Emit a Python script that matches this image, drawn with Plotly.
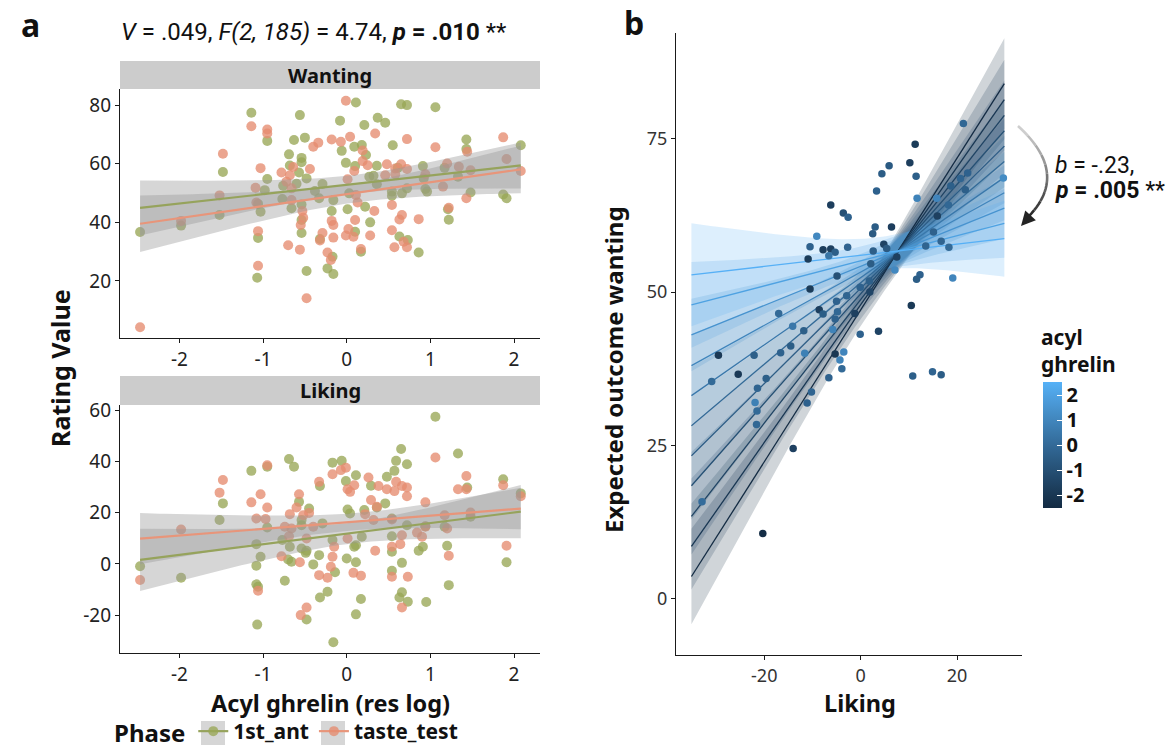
import numpy as np
import plotly.graph_objects as go

# ---------------- DATA: panel a ----------------
want_ant_x = [-2.47,-1.98,-1.48,-1.52,-1.14,-0.95,-0.95,-1.06,-1.03,-1.06,-1.07,-0.98,-0.56,-0.63,-0.50,-0.69,-0.54,-0.54,-0.68,-0.57,
              -0.48,-0.76,-0.60,-0.29,-0.38,-0.77,-0.54,-0.66,-0.54,-0.54,-0.32,-0.17,-0.48,-0.23,-0.16,-0.18,-0.16,-0.33,
              0.11,0.65,0.72,1.06,-0.08,0.37,0.46,0.21,1.43,2.08,1.43,0.55,-0.06,0.09,0.18,0.23,-0.01,0.10,0.36,0.61,0.91,1.17,
              0.27,0.32,0.92,0.36,1.33,0.94,0.72,0.54,0.66,0.54,0.96,1.48,1.87,1.91,0.03,0.01,0.22,1.21,1.22,0.28,0.10,0.63,0.73,0.86,0.17]
want_ant_y = [36.7,38.9,57.2,42.5,77.4,67.8,54.8,46.3,43.6,34.7,21.1,51.0,76.6,68.1,68.9,63.2,62.0,60.5,59.4,57.0,
              55.0,52.5,53.2,53.1,50.7,48.0,46.1,44.8,40.8,36.4,34.3,28.3,23.4,24.3,22.4,43.9,47.6,48.2,
              80.9,80.3,80.0,79.3,74.7,75.7,74.0,73.2,68.3,66.3,65.0,66.3,64.4,65.8,66.4,63.0,60.3,59.2,59.3,58.6,59.2,58.6,
              55.6,55.9,55.0,53.0,55.6,51.4,51.6,50.5,49.9,49.1,50.5,50.2,49.5,48.2,49.9,44.5,45.3,44.5,40.9,40.0,36.8,35.2,34.0,29.7,30.0]
want_tt_x = [-2.47,-1.98,-1.48,-1.52,-1.14,-0.95,-0.95,-1.03,-1.09,-1.08,-1.06,-1.06,-0.40,-0.34,-0.18,-0.78,-0.68,-0.64,-0.44,-0.72,
             -0.66,-0.66,-0.53,-0.52,-0.55,-0.29,-0.32,-0.70,-0.56,-0.23,-0.19,-0.48,-0.18,-0.16,-0.16,
             -0.01,0.34,-0.07,0.04,0.72,1.87,1.06,1.44,0.19,0.19,0.25,0.09,0.48,0.58,0.65,0.72,1.20,1.34,1.48,1.91,2.08,
             0.46,0.58,0.94,0.01,1.15,1.43,0.11,0.13,0.54,0.33,0.66,0.63,1.22,0.86,0.10,0.02,-0.01,0.08,0.28,0.54,0.57,0.72,0.68,0.17]
want_tt_y = [4.2,40.5,63.4,49.2,72.8,71.7,70.3,58.5,51.8,46.8,37.0,25.2,65.8,67.2,68.3,57.0,56.1,58.9,58.2,53.9,
             51.6,47.6,43.9,41.6,39.1,36.4,33.8,32.2,30.7,29.7,27.2,14.1,40.5,39.1,34.8,
             81.5,70.3,67.5,69.2,68.4,69.0,65.6,64.1,64.5,60.9,59.5,57.5,59.8,58.4,59.8,58.2,60.1,59.0,57.8,61.6,57.5,
             56.1,56.4,56.4,54.7,52.2,48.2,49.3,46.8,45.9,43.9,42.5,41.0,45.0,41.1,40.8,37.7,35.5,35.1,35.5,37.3,31.5,31.5,33.4,30.9]

like_ant_x = [-2.47,-1.98,-1.48,-1.52,-1.14,-0.95,-0.69,-0.63,-0.95,-1.08,-1.03,-1.08,-1.08,-1.06,-1.07,-0.57,-0.45,-0.54,-0.54,-0.29,
              -0.77,-0.68,-0.70,-0.66,-0.54,-0.49,-0.48,-0.40,-0.33,-0.32,-0.17,-0.32,-0.23,-0.48,-0.16,-0.74,-0.17,
              1.06,0.65,1.33,0.59,0.72,0.57,-0.06,0.11,-0.01,0.48,0.29,1.44,1.87,2.08,0.01,0.04,0.36,0.46,0.21,0.54,0.72,1.17,1.48,
              0.94,0.54,0.54,0.86,0.91,1.20,1.91,0.09,0.11,0.18,0.00,0.11,-0.14,0.66,0.54,1.22,0.66,0.63,0.73,0.95,0.17,0.11]
like_ant_y = [-0.9,-5.4,23.6,17.1,36.3,37.9,40.9,37.9,14.2,7.7,2.8,-0.7,-8.0,-8.9,-23.7,24.2,21.6,17.1,15.1,15.8,
              9.3,6.7,1.7,0.8,6.0,4.3,5.1,-0.2,3.4,30.4,39.5,-13.1,-10.9,-21.7,-30.6,-6.6,9.3,
              57.4,44.8,43.1,40.2,38.9,36.3,40.2,34.6,32.3,34.0,30.5,29.8,33.0,27.5,21.2,19.7,22.0,23.6,21.0,17.7,15.1,14.5,18.4,
              14.7,10.8,4.7,5.1,6.7,7.1,0.6,6.7,7.3,10.6,2.1,0.6,-3.3,0.4,-2.7,-8.3,-11.1,-13.1,-14.8,-14.9,-13.7,-19.7]
like_tt_x = [-2.47,-1.98,-1.48,-1.52,-0.95,-1.03,-1.14,-0.95,-1.08,-0.97,-1.06,-0.57,-0.60,-0.68,-0.45,-0.52,-0.74,-0.66,-0.40,-0.69,
             -0.48,-0.78,-0.56,-0.33,-0.17,-0.33,-0.23,-0.48,-0.55,-0.17,-0.19,
             1.06,-0.07,-0.01,0.26,0.59,0.38,0.48,0.57,0.66,0.72,0.72,0.09,0.01,0.04,1.43,1.33,1.43,1.87,2.08,0.94,0.29,0.36,0.22,
             0.32,0.54,1.17,1.20,1.48,0.94,0.84,0.90,0.66,0.64,0.54,0.34,1.22,1.91,-0.15,0.01,0.08,0.17,0.54,0.73,0.66]
like_tt_y = [-6.3,13.4,32.7,27.8,38.5,27.2,24.0,22.0,17.7,17.5,-10.5,27.2,22.0,19.4,19.9,19.0,14.5,13.8,14.5,10.8,
             9.9,3.0,0.6,32.0,35.0,-4.4,-5.4,-17.0,-20.0,2.8,-1.1,
             41.5,36.6,37.5,33.7,32.0,30.4,29.1,28.4,30.4,29.8,26.4,30.7,29.1,28.1,34.3,29.1,29.1,30.7,26.4,24.0,24.9,22.3,19.4,
             17.1,17.3,19.0,13.8,20.0,14.5,12.2,10.6,11.2,7.7,6.7,5.1,3.2,7.1,6.7,9.9,-3.5,-4.6,-5.0,-5.0,-17.0]

phase_names = ["1st_ant", "taste_test"]
x_ticks_a = [-2, -1, 0, 1, 2]
want_ticks = [20, 40, 60, 80]
like_ticks = [-20, 0, 20, 40, 60]

# ---------------- DATA: panel b ----------------
b_liking = [-6.2,-3.6,-2.6,-9.1,-10.5,-7.8,-6.2,-5.3,-6.6,-10.9,-2.7,-4.9,-10.5,-17.0,-8.6,-7.8,-5.0,-2.9,-4.8,-5.3,
            -5.8,-14.1,-11.8,-29.5,-22.1,-16.6,-14.5,-11.6,-5.3,-3.5,-4.3,-3.9,-25.4,-30.9,-19.6,-21.4,-6.6,-10.2,-11.1,-21.9,
            -21.5,-21.6,-14.0,-32.9,-20.3,
            21.3,11.3,10.2,5.9,4.4,11.5,3.3,11.7,18.7,20.7,22.2,21.7,29.6,15.8,18.2,15.9,6.4,3.0,2.5,15.1,
            16.7,13.5,18.3,4.8,5.4,2.6,2.1,7.5,7.1,12.3,11.6,19.1,1.8,-0.1,1.9,-1.2,10.5,-0.1,3.7,10.8,14.9,16.7]
b_wanting = [64.2,62.9,62.2,59.1,57.4,56.9,57.0,56.5,55.9,55.4,57.3,52.6,50.5,46.5,47.1,46.4,48.5,49.4,46.8,45.6,
             43.9,44.4,43.7,39.7,39.7,40.1,41.2,40.0,39.9,40.2,38.9,37.5,36.6,35.4,35.9,34.3,36.0,33.7,31.9,32.0,
             30.6,28.4,24.5,15.8,10.6,
             77.5,74.1,71.1,70.6,69.3,68.9,66.5,65.3,67.3,68.5,69.4,66.7,68.6,65.3,64.2,62.4,60.6,60.6,59.5,59.8,
             58.3,57.5,57.3,57.8,57.1,56.7,54.6,55.7,53.6,52.8,52.1,52.3,51.8,50.8,50.0,46.5,47.8,43.1,43.6,36.3,37.0,36.5]
b_ghrelin = [-1.7,-1.0,-0.3,1.1,-0.3,-1.7,-1.6,-0.4,0.4,-1.8,-0.2,-1.0,-1.8,0.0,-1.7,-0.5,-0.3,-0.2,-0.1,-0.3,
             0.9,0.5,-0.4,-1.9,-0.4,-0.3,-0.5,0.8,-2.0,1.0,0.9,0.0,-1.9,0.0,-0.4,-0.2,-0.3,-0.2,-0.3,0.8,
             0.0,-0.1,-1.6,0.1,-2.4,
             -0.1,-1.8,-1.7,-0.6,-0.5,-0.4,-0.3,0.9,-0.4,-0.2,-0.3,-0.4,1.2,1.0,-0.1,-1.6,-1.7,-0.5,-0.6,-0.3,
             -0.2,-0.2,0.0,-1.5,-0.6,-0.4,-0.5,-1.6,1.1,-0.3,-0.5,1.0,-0.4,-0.3,-1.4,-1.6,-1.9,-0.3,-1.5,-0.4,-0.2,-0.5]

# simple-slope lines of the moderation model
line_ghrelin = [-2.5,-2.0,-1.5,-1.0,-0.5,0.0,0.5,1.0,1.5,2.0,2.5]
line_x_ends = [-35.1, 29.8]
line_y_left = [3.6,8.5,13.4,18.4,23.3,28.2,33.1,38.0,43.0,47.9,52.8]
line_y_right = [84.0,81.4,78.8,76.3,73.8,71.3,68.7,66.2,63.7,61.2,58.7]
band_hw_left = [7.8,7.0,6.2,5.5,5.0,4.7,4.7,5.1,5.9,7.0,8.4]
band_hw_right = [7.4,6.5,5.7,5.0,4.5,4.2,4.2,4.5,5.0,5.6,6.2]
band_hw_min = [2.6,2.3,2.0,1.8,1.7,1.6,1.7,1.8,2.0,2.3,2.6]
ghrelin_limits = [-2.5, 2.53]
b_ticks_x = [-20, 0, 20]
b_ticks_y = [0, 25, 50, 75]
cbar_ticks = [-2, -1, 0, 1, 2]

def labels(vals):
    return [str(v) for v in vals]   # ASCII hyphen-minus like ggplot

# ---------------- styles ----------------
W, H = 1173, 753
def px(x): return x / W
def py(y): return 1 - y / H

GREEN_PT = "rgba(152,166,86,0.78)"
ORANGE_PT = "rgba(229,140,112,0.78)"
GREEN_LN = "#96A35C"
ORANGE_LN = "#E8957A"
BAND = "rgba(153,153,153,0.4)"
FONT = "Noto Sans"

# ggplot-like Lab gradient #132B43 -> #56B1F7
def _hex2rgb(h):
    h = h.lstrip('#'); return [int(h[i:i+2], 16) / 255 for i in (0, 2, 4)]
def _lin(c): return c / 12.92 if c <= 0.04045 else ((c + 0.055) / 1.055) ** 2.4
def _gam(c):
    c = min(max(c, 0), 1)
    return 12.92 * c if c <= 0.0031308 else 1.055 * c ** (1 / 2.4) - 0.055
M = np.array([[0.4124, 0.3576, 0.1805], [0.2126, 0.7152, 0.0722], [0.0193, 0.1192, 0.9505]])
WP = np.array([0.95047, 1.0, 1.08883])
def _f(t): return t ** (1/3) if t > 216/24389 else (24389/27 * t + 16) / 116
def _finv(t): return t ** 3 if t ** 3 > 216/24389 else (116 * t - 16) / (24389/27)
def to_lab(h):
    xyz = M @ np.array([_lin(c) for c in _hex2rgb(h)]) / WP
    fx, fy, fz = [_f(v) for v in xyz]
    return np.array([116 * fy - 16, 500 * (fx - fy), 200 * (fy - fz)])
def from_lab(lab):
    L, a, b = lab
    fy = (L + 16) / 116; fx = fy + a / 500; fz = fy - b / 200
    xyz = np.array([_finv(fx), _finv(fy), _finv(fz)]) * WP
    rgb = np.linalg.solve(M, xyz)
    return [int(round(_gam(c) * 255)) for c in rgb]
LAB_LO, LAB_HI = to_lab("#132B43"), to_lab("#56B1F7")
def grad(t):
    t = min(max(t, 0), 1)
    return from_lab(LAB_LO + (LAB_HI - LAB_LO) * t)
colorscale = [[i / 20, "rgb(%d,%d,%d)" % tuple(grad(i / 20))] for i in range(21)]
def gcol(g, alpha=None):
    r, gg, b = grad((g - ghrelin_limits[0]) / (ghrelin_limits[1] - ghrelin_limits[0]))
    return "rgb(%d,%d,%d)" % (r, gg, b) if alpha is None else "rgba(%d,%d,%d,%.2f)" % (r, gg, b, alpha)

fig = go.Figure()

# ---------------- panel a ----------------
def ols_band(x, y, n_grid=80):
    x = np.asarray(x, float); y = np.asarray(y, float)
    X = np.column_stack([np.ones_like(x), x])
    beta, *_ = np.linalg.lstsq(X, y, rcond=None)
    res = y - X @ beta
    n = len(x); s2 = (res @ res) / (n - 2)
    xm = x.mean(); sxx = ((x - xm) ** 2).sum()
    xg = np.linspace(x.min(), x.max(), n_grid)
    fit = beta[0] + beta[1] * xg
    se = np.sqrt(s2 * (1 / n + (xg - xm) ** 2 / sxx))
    t = 1.986
    return xg, fit, fit - t * se, fit + t * se

facets = [("x", "y", want_ant_x, want_ant_y, want_tt_x, want_tt_y),
          ("x2", "y2", like_ant_x, like_ant_y, like_tt_x, like_tt_y)]
for xa, ya, ax_, ay_, tx_, ty_ in facets:
    for xs, ys, c in [(ax_, ay_, GREEN_PT), (tx_, ty_, ORANGE_PT)]:
        fig.add_trace(go.Scatter(x=xs, y=ys, mode="markers", xaxis=xa, yaxis=ya, showlegend=False,
                                 marker=dict(size=10, color=c, line=dict(width=0)), hoverinfo="skip"))
    fits = []
    for xs, ys, lc in [(ax_, ay_, GREEN_LN), (tx_, ty_, ORANGE_LN)]:
        xg, fit, lo, hi = ols_band(xs, ys)
        fig.add_trace(go.Scatter(x=np.concatenate([xg, xg[::-1]]), y=np.concatenate([lo, hi[::-1]]),
                                 fill="toself", fillcolor=BAND, line=dict(width=0), mode="lines",
                                 xaxis=xa, yaxis=ya, showlegend=False, hoverinfo="skip"))
        fits.append((xg, fit, lc))
    for xg, fit, lc in fits:
        fig.add_trace(go.Scatter(x=xg, y=fit, mode="lines", line=dict(color=lc, width=2.2),
                                 xaxis=xa, yaxis=ya, showlegend=False, hoverinfo="skip"))

# legend entries
for name, pc, lc in [(phase_names[0], GREEN_PT, GREEN_LN), (phase_names[1], ORANGE_PT, ORANGE_LN)]:
    fig.add_trace(go.Scatter(x=[None], y=[None], mode="lines+markers", name=name, xaxis="x", yaxis="y",
                             marker=dict(size=10, color=pc), line=dict(color=lc, width=2.2)))

# ---------------- panel b ----------------
xl, xr = line_x_ends
xs_line = np.linspace(xl, xr, 120)
for k, g in enumerate(line_ghrelin):
    yl, yr = line_y_left[k], line_y_right[k]
    yfit = yl + (yr - yl) * (xs_line - xl) / (xr - xl)
    hL, hR, h0 = band_hw_left[k], band_hw_right[k], band_hw_min[k]
    r = np.sqrt((hL ** 2 - h0 ** 2) / (hR ** 2 - h0 ** 2))
    xc = (xl + r * xr) / (1 + r)
    c = np.sqrt(hL ** 2 - h0 ** 2) / (xc - xl)
    hw = np.sqrt(h0 ** 2 + c ** 2 * (xs_line - xc) ** 2)
    fig.add_trace(go.Scatter(x=np.concatenate([xs_line, xs_line[::-1]]),
                             y=np.concatenate([yfit - hw, (yfit + hw)[::-1]]),
                             fill="toself", fillcolor=gcol(g, 0.2), line=dict(width=0), mode="lines",
                             xaxis="x3", yaxis="y3", showlegend=False, hoverinfo="skip"))
for k, g in enumerate(line_ghrelin):
    fig.add_trace(go.Scatter(x=line_x_ends, y=[line_y_left[k], line_y_right[k]], mode="lines",
                             line=dict(color=gcol(g), width=1.3), xaxis="x3", yaxis="y3",
                             showlegend=False, hoverinfo="skip"))
fig.add_trace(go.Scatter(x=b_liking, y=b_wanting, mode="markers", xaxis="x3", yaxis="y3", showlegend=False,
                         marker=dict(size=7.5, color=b_ghrelin, coloraxis="coloraxis", line=dict(width=0))))

# ---------------- axes ----------------
axis_common = dict(showline=True, linecolor="#1a1a1a", linewidth=1.3, ticks="outside", ticklen=4,
                   tickcolor="#1a1a1a", tickwidth=1.2, showgrid=False, zeroline=False)
tick_a = dict(family=FONT, size=19, color="#222222")
tick_b = dict(family=FONT, size=18, color="#333333")
fig.update_layout(
    width=W, height=H, margin=dict(l=0, r=0, t=0, b=0, autoexpand=False),
    plot_bgcolor="white", paper_bgcolor="white", font=dict(family=FONT, color="#1a1a1a"),
    xaxis=dict(domain=[px(120), px(540)], range=[-2.71, 2.31], tickvals=x_ticks_a, ticktext=labels(x_ticks_a),
               tickfont=tick_a, anchor="y", **axis_common),
    yaxis=dict(domain=[py(338.3), py(89)], range=[0.45, 85.5], tickvals=want_ticks, ticktext=labels(want_ticks),
               tickfont=tick_a, anchor="x", **axis_common),
    xaxis2=dict(domain=[px(120), px(540)], range=[-2.71, 2.31], tickvals=x_ticks_a, ticktext=labels(x_ticks_a),
                tickfont=tick_a, anchor="y2", **axis_common),
    yaxis2=dict(domain=[py(653.3), py(405)], range=[-34.9, 62.0], tickvals=like_ticks, ticktext=labels(like_ticks),
                tickfont=tick_a, anchor="x2", **axis_common),
    xaxis3=dict(domain=[px(676), px(1021.7)], range=[-38.3, 33.4], tickvals=b_ticks_x, ticktext=labels(b_ticks_x),
                tickfont=tick_b, anchor="y3", **axis_common),
    yaxis3=dict(domain=[py(655), py(33)], range=[-9.2, 92.25], tickvals=b_ticks_y, ticktext=labels(b_ticks_y),
                tickfont=tick_b, anchor="x3", **axis_common),
    coloraxis=dict(colorscale=colorscale, cmin=ghrelin_limits[0], cmax=ghrelin_limits[1],
                   colorbar=dict(x=px(1043), xanchor="left", xpad=0, ypad=0, y=py(445), yanchor="middle",
                                 len=126, lenmode="pixels", thickness=19, thicknessmode="pixels",
                                 outlinewidth=0, tickvals=cbar_ticks, ticktext=labels(cbar_ticks),
                                 ticks="inside", ticklen=5, tickcolor="white", tickwidth=1,
                                 tickfont=dict(family=FONT, size=20, color="#111", weight="bold"),
                                 title=dict(text=""))),
    legend=dict(orientation="h", x=px(112), y=0.0, xanchor="left", yanchor="bottom",
                title=dict(text="Phase", font=dict(family=FONT, size=24, color="#111", weight="bold")),
                font=dict(family=FONT, size=21, color="#111", weight="bold"), itemwidth=30,
                bgcolor="rgba(0,0,0,0)"),
)

# strips
shapes = []
for y0, y1 in [(89, 61), (405, 376)]:
    shapes.append(dict(type="rect", xref="paper", yref="paper", x0=px(120), x1=px(540), y0=py(y0), y1=py(y1),
                       fillcolor="#CCCCCC", line=dict(width=0), layer="below"))
# grey legend-key backgrounds (ggplot style)
for kx in (213, 333):
    shapes.append(dict(type="rect", xref="paper", yref="paper", x0=px(kx - 12), x1=px(kx + 12),
                       y0=py(745), y1=py(721), fillcolor="#D6D6D6", line=dict(width=0), layer="above"))
# curved arrow, fading from light grey to near-black
P0, P1, P2 = np.array([1018, 126]), np.array([1072, 175]), np.array([1026, 219])
n_seg = 10
for i in range(n_seg):
    ts = np.linspace(i / n_seg, (i + 1) / n_seg, 4)
    pts = [(1 - t) ** 2 * P0 + 2 * (1 - t) * t * P1 + t ** 2 * P2 for t in ts]
    path = "M " + " L ".join("%.5f,%.5f" % (px(p[0]), py(p[1])) for p in pts)
    shade = int(215 - (215 - 35) * (i + 0.5) / n_seg)
    shapes.append(dict(type="path", xref="paper", yref="paper", path=path,
                       line=dict(color="rgb(%d,%d,%d)" % (shade, shade, shade), width=2.6)))
fig.update_layout(shapes=shapes)

ann = []
def A(text, x, y, size, bold=False, family=FONT, angle=0, xanchor="center", color="#111", align="center"):
    ann.append(dict(text=text, x=px(x), y=py(y), xref="paper", yref="paper", showarrow=False,
                    textangle=angle, xanchor=xanchor, yanchor="middle", align=align,
                    font=dict(family=family, size=size, color=color, weight="bold" if bold else "normal")))
A("a", 30, 25, 32, bold=True)
A("b", 634, 23, 32, bold=True)
A("<i>V</i> = .049, <i>F(2, 185)</i> = 4.74, <b><i>p</i> = .010</b> **", 314, 32, 24, family="Roboto")
A("Wanting", 330, 75, 20, bold=True)
A("Liking", 330, 390, 20, bold=True)
A("Rating Value", 60, 368, 25, bold=True, angle=-90)
A("Acyl ghrelin (res log)", 330, 703, 23.5, bold=True)
A("Expected outcome wanting", 613, 370, 24, bold=True, angle=-90)
A("Liking", 860, 703, 23.5, bold=True)
A("acyl<br>ghrelin", 1039, 350, 21, bold=True, xanchor="left", align="left")
A("<i>b</i> = -.23,", 1053, 165, 23, family="Roboto", xanchor="left")
A("<b><i>p</i> = .005</b> **", 1053, 190, 23, family="Roboto", xanchor="left")
ann.append(dict(x=px(1021), y=py(226), xref="paper", yref="paper", ax=9, ay=-10, text="", showarrow=True,
                arrowhead=2, arrowsize=1.1, arrowwidth=2.6, arrowcolor="#232323"))
fig.update_layout(annotations=ann)

fig.write_html("out.html", config={"displayModeBar": False},
               post_script="document.body.style.margin='0';document.body.style.overflow='hidden';")
